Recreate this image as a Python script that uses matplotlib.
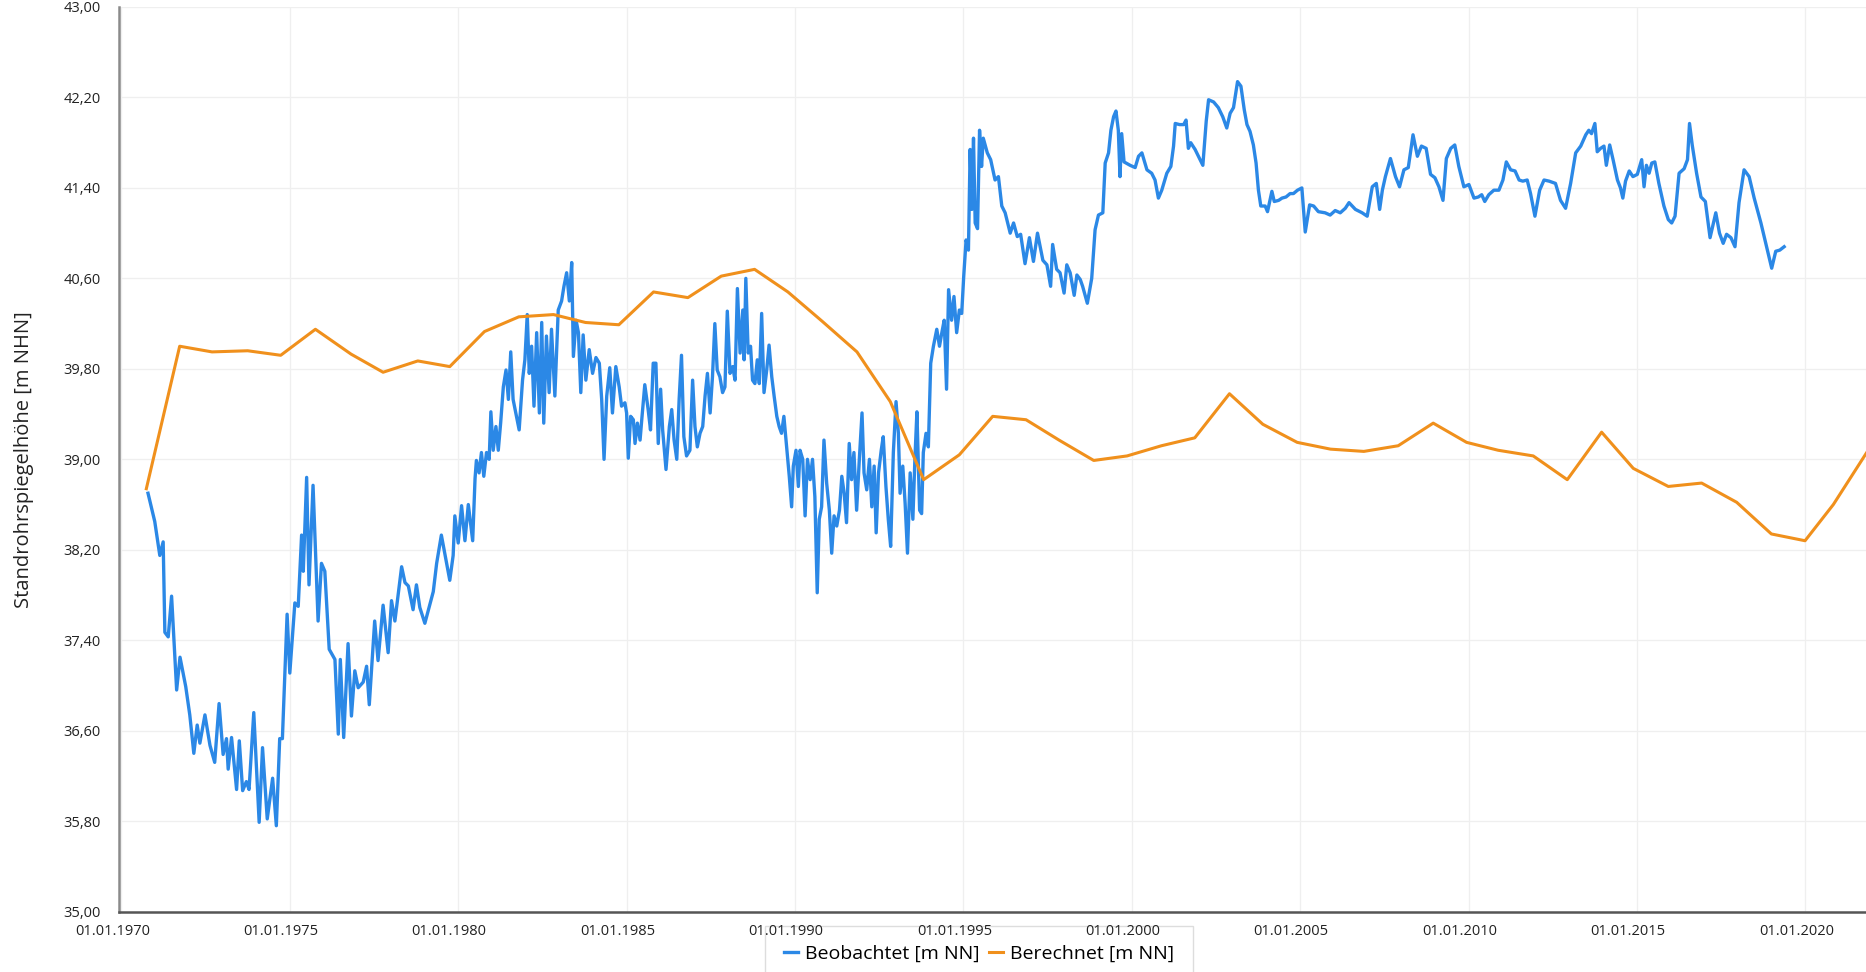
import numpy as np
import pandas as pd
import matplotlib
matplotlib.use('Agg')
import matplotlib.pyplot as plt
import matplotlib.dates as mdates
from matplotlib.transforms import ScaledTranslation

plt.rcParams['font.family'] = ['Open Sans', 'DejaVu Sans']

# Beobachtet (Jahr als Dezimalzahl, Wasserstand m NN)
beob_jahr = [
    # 1970 - 1980
    1970.79, 1970.99, 1971.14, 1971.24, 1971.29, 1971.39, 1971.49, 1971.64, 1971.74, 1971.91,
    1972.03, 1972.15, 1972.25, 1972.33, 1972.48, 1972.63, 1972.77, 1972.90, 1973.02, 1973.12,
    1973.17, 1973.27, 1973.42, 1973.50, 1973.60, 1973.71, 1973.79, 1973.93, 1974.09, 1974.19,
    1974.33, 1974.49, 1974.60, 1974.70, 1974.78, 1974.92, 1975.00, 1975.15, 1975.25, 1975.35,
    1975.40, 1975.50, 1975.57, 1975.69, 1975.84, 1975.94, 1976.04, 1976.17, 1976.34, 1976.44,
    1976.50, 1976.60, 1976.73, 1976.83, 1976.93, 1977.03, 1977.18, 1977.28, 1977.36, 1977.52,
    1977.62, 1977.77, 1977.92, 1978.02, 1978.12, 1978.32, 1978.42, 1978.52, 1978.66, 1978.76,
    1978.86, 1979.01, 1979.26, 1979.36, 1979.50, 1979.75, 1979.85,
    1979.90, 1980.00, 1980.10, 1980.20, 1980.30, 1980.43,
    # 1980 - 1985
    1980.50, 1980.54, 1980.62, 1980.69, 1980.76, 1980.84, 1980.92, 1980.97, 1981.04, 1981.12,
    1981.19, 1981.26, 1981.34, 1981.42, 1981.49, 1981.56, 1981.63, 1981.71, 1981.81, 1981.91,
    1981.98, 1982.05, 1982.11, 1982.18, 1982.25, 1982.33, 1982.41, 1982.48, 1982.54, 1982.62,
    1982.70, 1982.77, 1982.87, 1982.97, 1983.07, 1983.14, 1983.22, 1983.30, 1983.37, 1983.42,
    1983.50, 1983.57, 1983.64, 1983.71, 1983.79, 1983.89, 1983.99, 1984.09, 1984.19, 1984.26,
    1984.33, 1984.41, 1984.50, 1984.58, 1984.68, 1984.78, 1984.85, 1984.95,
    # 1985 - 1990
    1985.00, 1985.05, 1985.12, 1985.20, 1985.25, 1985.32, 1985.40, 1985.45, 1985.54, 1985.64,
    1985.71, 1985.79, 1985.87, 1985.94, 1986.01, 1986.07, 1986.17, 1986.27, 1986.34, 1986.41,
    1986.49, 1986.56, 1986.63, 1986.70, 1986.78, 1986.88, 1986.96, 1987.03, 1987.10, 1987.18,
    1987.26, 1987.33, 1987.40, 1987.48, 1987.55, 1987.62, 1987.69, 1987.77, 1987.85, 1987.92,
    1987.99, 1988.07, 1988.15, 1988.22, 1988.29, 1988.37, 1988.45, 1988.49, 1988.54, 1988.61,
    1988.68, 1988.74, 1988.81, 1988.88, 1988.94, 1989.01, 1989.08, 1989.16, 1989.23, 1989.31,
    1989.38, 1989.46, 1989.53, 1989.60, 1989.67, 1989.75, 1989.83, 1989.90, 1989.95, 1990.03,
    1990.10,
    # 1990 - 1995
    1990.15, 1990.23, 1990.30, 1990.37, 1990.45, 1990.52, 1990.59, 1990.66, 1990.72, 1990.79,
    1990.86, 1990.94, 1991.02, 1991.09, 1991.16, 1991.24, 1991.32, 1991.39, 1991.46, 1991.53,
    1991.61, 1991.68, 1991.75, 1991.83, 1991.91, 1991.99, 1992.05, 1992.13, 1992.21, 1992.28,
    1992.35, 1992.41, 1992.48, 1992.56, 1992.62, 1992.70, 1992.77, 1992.84, 1992.92, 1993.00,
    1993.07, 1993.12, 1993.20, 1993.27, 1993.34, 1993.42, 1993.50, 1993.56, 1993.62, 1993.70,
    1993.76, 1993.81, 1993.89, 1993.96, 1994.03, 1994.11, 1994.21, 1994.29, 1994.36, 1994.43,
    1994.50, 1994.56, 1994.65, 1994.72, 1994.80, 1994.88, 1994.95, 1995.01, 1995.08, 1995.15,
    # 1995 - 2006
    1995.20, 1995.25, 1995.30, 1995.35, 1995.42, 1995.48, 1995.54, 1995.59, 1995.71, 1995.81,
    1995.94, 1996.04, 1996.14, 1996.24, 1996.39, 1996.49, 1996.60, 1996.70, 1996.83, 1996.96,
    1997.08, 1997.20, 1997.36, 1997.48, 1997.59, 1997.65, 1997.77, 1997.87, 1997.99, 1998.07,
    1998.17, 1998.29, 1998.37, 1998.47, 1998.54, 1998.68, 1998.81, 1998.91, 1999.01, 1999.14,
    1999.21, 1999.31, 1999.38, 1999.46, 1999.53, 1999.60, 1999.65, 1999.70, 1999.77, 1999.95,
    2000.10, 2000.20, 2000.30, 2000.45, 2000.59, 2000.69, 2000.79, 2000.89, 2001.04, 2001.16,
    2001.24, 2001.29, 2001.42, 2001.54, 2001.61, 2001.68, 2001.75, 2001.88, 2001.98, 2002.11,
    2002.21, 2002.28, 2002.43, 2002.57, 2002.70, 2002.82, 2002.92, 2003.02, 2003.14, 2003.24,
    2003.34, 2003.42, 2003.51, 2003.61, 2003.69, 2003.76, 2003.83, 2003.96, 2004.03, 2004.16,
    2004.23, 2004.36, 2004.46, 2004.58, 2004.70, 2004.80, 2004.92, 2005.05, 2005.15, 2005.28,
    2005.40, 2005.54, 2005.74, 2005.89, 2006.04, 2006.19, 2006.34,
    # 2006 - 2019
    2006.45, 2006.64, 2006.84, 2006.99, 2007.14, 2007.26, 2007.36, 2007.44, 2007.53, 2007.68,
    2007.83, 2007.95, 2008.08, 2008.21, 2008.35, 2008.48, 2008.60, 2008.74, 2008.87, 2009.00,
    2009.12, 2009.24, 2009.34, 2009.47, 2009.59, 2009.71, 2009.86, 2010.01, 2010.16, 2010.29,
    2010.39, 2010.48, 2010.60, 2010.75, 2010.90, 2011.02, 2011.12, 2011.25, 2011.38, 2011.50,
    2011.61, 2011.74, 2011.84, 2011.97, 2012.11, 2012.24, 2012.39, 2012.58, 2012.73, 2012.88,
    2013.03, 2013.18, 2013.33, 2013.48, 2013.57, 2013.65, 2013.75, 2013.82, 2013.92, 2014.02,
    2014.09, 2014.19, 2014.29, 2014.42, 2014.51, 2014.58, 2014.66, 2014.77, 2014.88, 2015.01,
    2015.14, 2015.21, 2015.28, 2015.36, 2015.44, 2015.53, 2015.65, 2015.80, 2015.93, 2016.03,
    2016.13, 2016.25, 2016.40, 2016.50, 2016.56, 2016.64, 2016.77, 2016.90, 2017.03, 2017.10,
    2017.17, 2017.27, 2017.34, 2017.45, 2017.56, 2017.66, 2017.79, 2017.91, 2018.03, 2018.18,
    2018.33, 2018.48, 2018.68, 2018.87, 2019.00, 2019.12, 2019.24, 2019.37,
]
beob_wert = [
    # 1970 - 1980
    38.70, 38.45, 38.15, 38.27, 37.47, 37.43, 37.79, 36.96, 37.25, 36.99,
    36.74, 36.40, 36.65, 36.49, 36.74, 36.47, 36.32, 36.84, 36.39, 36.53,
    36.26, 36.54, 36.08, 36.51, 36.07, 36.15, 36.08, 36.76, 35.79, 36.45,
    35.82, 36.18, 35.76, 36.53, 36.53, 37.63, 37.11, 37.73, 37.70, 38.33,
    38.01, 38.84, 37.89, 38.77, 37.57, 38.08, 38.01, 37.32, 37.23, 36.57,
    37.23, 36.54, 37.37, 36.73, 37.13, 36.98, 37.03, 37.17, 36.83, 37.57,
    37.22, 37.71, 37.29, 37.75, 37.57, 38.05, 37.91, 37.88, 37.67, 37.89,
    37.69, 37.55, 37.83, 38.08, 38.33, 37.93, 38.15,
    38.50, 38.26, 38.59, 38.28, 38.60, 38.28,
    # 1980 - 1985
    38.83, 38.99, 38.88, 39.06, 38.85, 39.06, 39.00, 39.42, 39.08, 39.29,
    39.08, 39.32, 39.64, 39.79, 39.53, 39.95, 39.53, 39.41, 39.26, 39.70,
    39.88, 40.28, 39.76, 40.00, 39.47, 40.12, 39.41, 40.21, 39.32, 40.09,
    39.59, 40.15, 39.56, 40.32, 40.40, 40.53, 40.65, 40.40, 40.74, 39.91,
    40.23, 40.12, 39.59, 40.10, 39.70, 39.97, 39.76, 39.90, 39.85, 39.53,
    39.00, 39.56, 39.81, 39.41, 39.82, 39.64, 39.47, 39.50,
    # 1985 - 1990
    39.41, 39.01, 39.38, 39.35, 39.14, 39.32, 39.17, 39.35, 39.66, 39.44,
    39.26, 39.85, 39.85, 39.14, 39.62, 39.26, 38.91, 39.29, 39.44, 39.17,
    39.00, 39.53, 39.92, 39.20, 39.03, 39.08, 39.70, 39.29, 39.11, 39.23,
    39.29, 39.56, 39.76, 39.41, 39.73, 40.20, 39.79, 39.73, 39.59, 39.64,
    40.31, 39.76, 39.82, 39.70, 40.51, 39.94, 40.32, 39.88, 40.60, 39.94,
    40.00, 39.70, 39.67, 39.88, 39.67, 40.29, 39.59, 39.79, 40.01, 39.73,
    39.56, 39.38, 39.29, 39.23, 39.38, 39.11, 38.85, 38.58, 38.94, 39.08,
    38.76,
    # 1990 - 1995
    39.08, 39.00, 38.50, 39.00, 38.82, 39.00, 38.67, 37.82, 38.47, 38.58,
    39.17, 38.79, 38.55, 38.17, 38.50, 38.41, 38.55, 38.85, 38.70, 38.44,
    39.14, 38.82, 39.06, 38.55, 39.00, 39.41, 38.88, 38.73, 39.00, 38.58,
    38.94, 38.35, 38.88, 39.08, 39.20, 38.76, 38.47, 38.23, 39.06, 39.51,
    39.23, 38.70, 38.94, 38.61, 38.17, 38.88, 38.47, 39.00, 39.42, 38.55,
    38.52, 39.06, 39.23, 39.11, 39.85, 40.00, 40.15, 40.00, 40.12, 40.23,
    39.62, 40.50, 40.23, 40.44, 40.12, 40.32, 40.29, 40.62, 40.94, 40.85,
    # 1995 - 2006
    41.74, 41.21, 41.84, 41.09, 41.04, 41.91, 41.59, 41.84, 41.71, 41.65,
    41.47, 41.50, 41.24, 41.18, 41.00, 41.09, 40.97, 40.99, 40.73, 40.96,
    40.75, 41.00, 40.76, 40.72, 40.53, 40.90, 40.68, 40.65, 40.47, 40.72,
    40.65, 40.45, 40.63, 40.59, 40.53, 40.38, 40.60, 41.03, 41.16, 41.18,
    41.62, 41.71, 41.91, 42.03, 42.08, 41.91, 41.50, 41.88, 41.63, 41.60,
    41.58, 41.68, 41.71, 41.56, 41.53, 41.47, 41.31, 41.38, 41.53, 41.59,
    41.77, 41.97, 41.96, 41.96, 42.00, 41.75, 41.80, 41.74, 41.68, 41.60,
    41.99, 42.18, 42.16, 42.11, 42.03, 41.93, 42.06, 42.11, 42.34, 42.30,
    42.09, 41.96, 41.90, 41.78, 41.62, 41.38, 41.24, 41.24, 41.19, 41.37,
    41.28, 41.29, 41.31, 41.32, 41.35, 41.35, 41.38, 41.40, 41.01, 41.25,
    41.24, 41.19, 41.18, 41.16, 41.20, 41.18, 41.22,
    # 2006 - 2019
    41.27, 41.21, 41.18, 41.15, 41.41, 41.44, 41.21, 41.38, 41.50, 41.66,
    41.50, 41.41, 41.56, 41.58, 41.87, 41.68, 41.77, 41.75, 41.52, 41.49,
    41.41, 41.29, 41.66, 41.75, 41.78, 41.59, 41.41, 41.43, 41.31, 41.32,
    41.34, 41.28, 41.34, 41.38, 41.38, 41.47, 41.63, 41.56, 41.55, 41.47,
    41.46, 41.47, 41.35, 41.15, 41.38, 41.47, 41.46, 41.44, 41.29, 41.22,
    41.44, 41.71, 41.77, 41.87, 41.91, 41.88, 41.97, 41.72, 41.75, 41.77,
    41.60, 41.78, 41.65, 41.47, 41.40, 41.31, 41.46, 41.55, 41.50, 41.52,
    41.65, 41.41, 41.60, 41.53, 41.62, 41.63, 41.44, 41.24, 41.12, 41.09,
    41.15, 41.53, 41.57, 41.65, 41.97, 41.78, 41.53, 41.32, 41.28, 41.12,
    40.96, 41.09, 41.18, 41.00, 40.91, 40.99, 40.96, 40.88, 41.27, 41.56,
    41.50, 41.31, 41.09, 40.85, 40.69, 40.84, 40.85, 40.88,
]

# Berechnet (Jahreswerte)
ber_jahr = [
    1970.74, 1971.73, 1972.69, 1973.75, 1974.73, 1975.76, 1976.82, 1977.77, 1978.80, 1979.75,
    1980.78, 1981.80, 1982.83, 1983.78, 1984.77, 1985.80, 1986.82, 1987.81, 1988.80, 1989.79,
    1990.81, 1991.84, 1992.83, 1993.82, 1994.88, 1995.87, 1996.86, 1997.84, 1998.87, 1999.86,
    2000.88, 2001.87, 2002.90, 2003.89, 2004.91, 2005.90, 2006.89, 2007.91, 2008.95, 2009.94,
    2010.88, 2011.92, 2012.93, 2013.95, 2014.89, 2015.93, 2016.92, 2017.96, 2018.99, 2019.99,
    2020.83, 2021.95,
]
ber_wert = [
    38.74, 40.00, 39.95, 39.96, 39.92, 40.15, 39.93, 39.77, 39.87, 39.82,
    40.13, 40.26, 40.28, 40.21, 40.19, 40.48, 40.43, 40.62, 40.68, 40.48,
    40.22, 39.95, 39.51, 38.82, 39.04, 39.38, 39.35, 39.17, 38.99, 39.03,
    39.12, 39.19, 39.58, 39.31, 39.15, 39.09, 39.07, 39.12, 39.32, 39.15,
    39.08, 39.03, 38.82, 39.24, 38.92, 38.76, 38.79, 38.62, 38.34, 38.28,
    38.60, 39.12,
]

assert len(beob_jahr) == len(beob_wert)
assert len(ber_jahr) == len(ber_wert)


def jahr_zu_datum(jahre):
    j = np.asarray(jahre)
    return pd.to_datetime('1970-01-01') + pd.to_timedelta((j - 1970) * 365.25, unit='D')


fig = plt.figure(figsize=(18.66, 9.72), dpi=100)
ax = fig.add_axes([0.0638, 0.0621, 0.9362, 0.9307])

ax.plot(jahr_zu_datum(beob_jahr), beob_wert, color='#2b88e6', lw=2.4, label='Beobachtet [m NN]')
ax.plot(jahr_zu_datum(ber_jahr), ber_wert, color='#f0901c', lw=2.2, label='Berechnet [m NN]')

ax.set_xlim(jahr_zu_datum([1969.93])[0], jahr_zu_datum([2021.80])[0])
ax.set_ylim(35, 43)
ax.set_yticks(np.arange(35, 43.01, 0.8))
ax.yaxis.set_major_formatter(plt.FuncFormatter(lambda v, p: f'{v:.2f}'.replace('.', ',')))
ax.xaxis.set_major_locator(mdates.YearLocator(5))
ax.xaxis.set_major_formatter(mdates.DateFormatter('%d.%m.%Y'))

ax.grid(True, color='#efefef', lw=0.9)
ax.set_axisbelow(True)
for s in ['top', 'right']:
    ax.spines[s].set_visible(False)
ax.spines['left'].set_color('#8a8a8a')
ax.spines['left'].set_linewidth(1.8)
ax.spines['bottom'].set_color('#555555')
ax.spines['bottom'].set_linewidth(1.8)
ax.tick_params(axis='both', length=0, labelsize=10.5, colors='#222222')
ax.tick_params(axis='y', pad=13)
ax.tick_params(axis='x', pad=9)

versatz = ScaledTranslation(-9 / 100, 0, fig.dpi_scale_trans)
for lab in ax.get_xticklabels():
    lab.set_transform(lab.get_transform() + versatz)

ax.set_ylabel('Standrohrspiegelhöhe [m NHN]', fontsize=14.5, color='#222222', va='center')
ax.yaxis.set_label_coords(-0.0544, 0.5)

leg = fig.legend(loc='upper center', bbox_to_anchor=(0.5247, 0.0576), ncol=2, fontsize=14,
                 frameon=True, fancybox=False, edgecolor='#dddddd', framealpha=1.0, borderpad=1.0,
                 handlelength=0.7, handletextpad=0.35, columnspacing=0.5)
leg.get_frame().set_linewidth(1.0)
leg.set_zorder(-1)  # Achsenbeschriftung liegt über der Legende

fig.savefig('out.png', dpi=100)
